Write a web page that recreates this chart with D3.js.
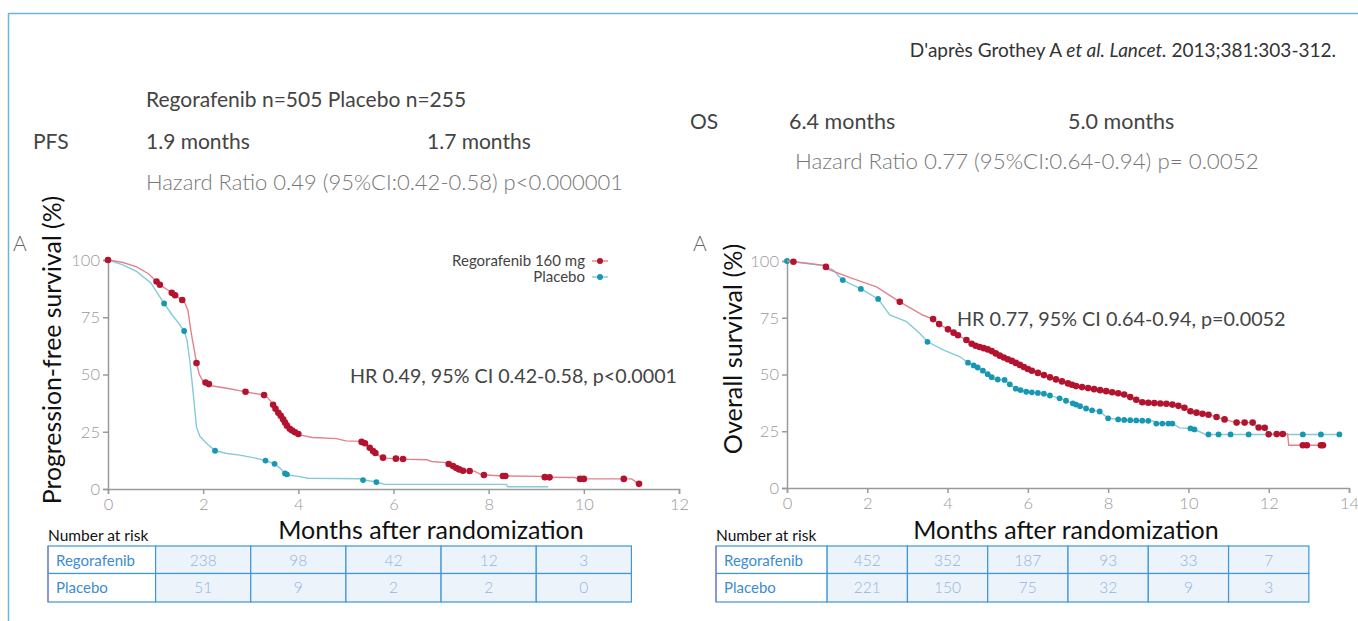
<!DOCTYPE html>
<html>
<head>
<meta charset="utf-8">
<script src="https://cdn.jsdelivr.net/npm/d3@7"></script>
<style>
  body { margin: 0; background: #fff; }
  svg { display: block; font-family: Lato, "Open Sans", sans-serif; }
</style>
</head>
<body>
<div id="chart"></div>
<script>
// ---- data ----
// PFS curves, [months, % surviving]
var pfsRegoCurve = [[0,100],[0.3,99],[0.6,97],[0.85,94],[1.0,91],[1.1,89],[1.25,87],[1.45,84],[1.6,82],[1.68,78],
  [1.75,68],[1.82,60],[1.86,55],[1.92,50],[2.0,47],[2.1,46],[2.2,45],[2.5,44],[2.9,42.4],[3.28,41],[3.35,40],
  [3.45,37.5],[3.55,34],[3.65,31.5],[3.72,29],[3.78,27],[3.85,25.8],[3.95,24.5],[4.05,23.5],[4.3,22.5],[4.8,22],
  [5.0,21],[5.3,20.8],[5.4,20],[5.5,18],[5.6,16],[5.7,14.5],[5.8,13.5],[6.3,13],[6.7,12.8],[6.8,12],[7.1,11.5],
  [7.25,10],[7.35,8.8],[7.45,8],[7.7,7.8],[7.85,6.2],[8.3,5.7],[9.1,5.5],[9.2,5.1],[9.8,5],[9.9,4.4],[11.0,4.4],
  [11.05,3.8],[11.12,2.5],[11.2,2]];
var pfsRegoCensor = [0,1.02,1.09,1.34,1.41,1.56,1.86,2.05,2.12,2.89,3.28,3.47,3.52,3.58,3.63,3.68,3.72,3.76,3.82,
  3.87,3.93,4.0,5.33,5.40,5.50,5.57,5.62,5.78,6.05,6.2,7.16,7.25,7.32,7.38,7.46,7.6,7.9,8.3,8.35,9.18,9.28,9.92,
  10.0,10.84,11.16];
var pfsPlacCurve = [[0,100],[0.3,98],[0.6,95],[0.9,90],[1.18,81],[1.35,76],[1.5,72],[1.6,69],[1.66,65],[1.72,56],
  [1.79,42],[1.86,27],[1.93,23],[2.07,20],[2.25,16.7],[2.5,15.5],[2.77,14.8],[3.1,13.5],[3.31,12.4],[3.5,11],
  [3.62,9],[3.72,6.8],[3.8,6],[4.0,5.5],[4.2,4.7],[5.3,4.5],[5.36,3.9],[5.6,3.3],[5.7,2.6],[5.82,2.0],[8.37,2.0],
  [8.4,1.0],[9.25,1.0]];
var pfsPlacCensor = [1.18,1.6,2.25,3.31,3.5,3.72,3.76,5.36,5.64];

// OS curves
var osRegoCurve = [[0,100],[0.5,99],[0.95,98],[1.0,96.5],[1.57,92.7],[2.23,88.6],[2.81,82],[3.39,76.1],[3.64,74.4],
  [3.79,72.2],[4.01,69.9],[4.26,67.3],[4.47,65.2],[4.64,63],[5.05,60.8],[5.34,57.9],[5.6,56],[6.05,52],[6.62,48.3],
  [7.2,44.9],[7.87,42.9],[8.37,41.4],[8.86,37.7],[9.53,37],[9.86,35.8],[10.07,33.6],[10.52,32.2],[10.94,30],
  [11.19,28.8],[11.6,28.8],[11.72,26.7],[11.93,26.5],[11.97,23.7],[12.47,23.8],[12.5,18.8],[13.35,18.8]];
var osRegoCensor = [0.16,0.97,2.81,3.64,3.79,4.01,4.15,4.26,4.47,4.6,4.7,4.8,4.9,5.0,5.1,5.2,5.3,5.4,5.5,5.6,5.7,
  5.8,5.9,6.0,6.1,6.25,6.4,6.55,6.7,6.85,7.0,7.1,7.2,7.35,7.5,7.65,7.8,7.95,8.1,8.25,8.4,8.55,8.7,8.85,9.0,9.15,
  9.3,9.45,9.6,9.75,9.9,10.05,10.2,10.35,10.5,10.7,10.9,11.2,11.4,11.6,11.75,11.9,12.0,12.2,12.35,12.85,12.95,
  13.3,13.35];
var osPlacCurve = [[0,100],[0.9,98],[1.15,96],[1.39,91.6],[1.84,87.7],[2.27,83.3],[2.56,76.2],[2.98,73.3],[3.31,68.1],
  [3.5,64.4],[3.89,60.8],[4.31,57.8],[4.51,55.2],[4.72,53.4],[4.88,51.7],[5.17,47.9],[5.42,47.6],[5.67,43.9],
  [5.96,42.4],[6.37,41.7],[6.79,39.5],[7.12,37.3],[7.54,34.4],[7.79,33.7],[8.0,30.7],[8.37,30],[9.12,29.5],
  [9.2,28.4],[9.6,28.4],[9.78,26.5],[10.1,26.2],[10.43,23.6],[13.76,23.6]];
var osPlacCensor = [0,1.39,1.84,2.27,3.5,4.51,4.65,4.75,4.88,5.0,5.1,5.25,5.42,5.55,5.7,5.82,5.96,6.1,6.25,6.4,
  6.55,6.79,6.95,7.12,7.2,7.3,7.45,7.6,7.79,8.0,8.25,8.4,8.55,8.7,8.85,9.0,9.2,9.35,9.5,9.6,10.05,10.15,10.5,
  10.75,11.05,11.5,12.85,13.3,13.76];

// number at risk tables
var pfsRiskMonths = [2,4,6,8,10];
var pfsRiskRego = [238,98,42,12,3];
var pfsRiskPlac = [51,9,2,2,0];
var osRiskMonths = [2,4,6,8,10,12];
var osRiskRego = [452,352,187,93,33,7];
var osRiskPlac = [221,150,75,32,9,3];

var yTicks = [0,25,50,75,100];
var pfsXTicks = [0,2,4,6,8,10,12];
var osXTicks = [0,2,4,6,8,10,12,14];
var armLabels = ['Regorafenib','Placebo'];

// ---- styles ----
var redLine = '#e3828f', redDot = '#b3132f';
var cyanLine = '#83cbd9', cyanDot = '#1697b2';
var frameBlue = '#6db5df';

var W = 1358, H = 621;
var svg = d3.select('#chart').append('svg').attr('width', W).attr('height', H);

// frame
svg.append('line').attr('x1', 8.5).attr('x2', W).attr('y1', 13.5).attr('y2', 13.5)
  .attr('stroke', frameBlue).attr('stroke-width', 1.5);
svg.append('line').attr('x1', 8.5).attr('x2', 8.5).attr('y1', 13).attr('y2', H)
  .attr('stroke', frameBlue).attr('stroke-width', 1.5);

function addText(x, y, str, size, color, opts) {
  opts = opts || {};
  return svg.append('text').attr('x', x).attr('y', y).text(str)
    .attr('font-size', size).attr('fill', color)
    .attr('font-weight', opts.weight || 400)
    .attr('text-anchor', opts.anchor || 'start');
}

// citation
var cite = svg.append('text').attr('x', 1336).attr('y', 57).attr('text-anchor', 'end')
  .attr('font-size', 19).attr('fill', '#333');
cite.append('tspan').text("D'après Grothey A ");
cite.append('tspan').attr('font-style', 'italic').text('et al. Lancet.');
cite.append('tspan').text(' 2013;381:303-312.');

// headers
addText(146, 107, 'Regorafenib n=505 Placebo n=255', 21, '#444');
addText(33, 149, 'PFS', 21, '#444');
addText(146, 149, '1.9 months', 21, '#444');
addText(427, 149, '1.7 months', 21, '#444');
addText(146, 190, 'Hazard Ratio 0.49 (95%CI:0.42-0.58) p<0.000001', 22, '#777', {weight: 300});
addText(690, 129, 'OS', 21, '#444');
addText(789, 129, '6.4 months', 21.5, '#444');
addText(1068, 129, '5.0 months', 21.5, '#444');
addText(795, 169, 'Hazard Ratio 0.77 (95%CI:0.64-0.94) p= 0.0052', 22.3, '#777', {weight: 300});

function valueAt(curve, t) {
  // value of the drawn curve at month t
  for (var i = 1; i < curve.length; i++) {
    if (t <= curve[i][0]) {
      var a = curve[i - 1], b = curve[i];
      var f = (t - a[0]) / (b[0] - a[0] || 1);
      return a[1] + f * (b[1] - a[1]);
    }
  }
  return curve[curve.length - 1][1];
}

function drawPanel(p) {
  var x = d3.scaleLinear().domain([0, p.xMax]).range([p.x0, p.x1]);
  var y = d3.scaleLinear().domain([0, 100]).range([p.y0, p.y1]);
  var g = svg.append('g');

  var yAxis = g.append('g').attr('transform', 'translate(' + p.x0 + ',0)')
    .call(d3.axisLeft(y).tickValues(yTicks).tickSize(5).tickPadding(3));
  var xAxis = g.append('g').attr('transform', 'translate(0,' + p.y0 + ')')
    .call(d3.axisBottom(x).tickValues(p.xTicks).tickSize(5).tickPadding(4));
  [yAxis, xAxis].forEach(function (a) {
    a.select('.domain').attr('stroke', '#9a9a9a').attr('stroke-width', 1.5);
    a.selectAll('.tick line').attr('stroke', '#9a9a9a').attr('stroke-width', 1.5);
    a.selectAll('.tick text').attr('fill', '#9a9a9a').attr('font-size', 16.5)
      .attr('font-weight', 300).attr('font-family', 'Lato, sans-serif');
  });

  var line = d3.line().x(function (d) { return x(d[0]); }).y(function (d) { return y(d[1]); });
  var series = [
    {curve: p.placCurve, censor: p.placCensor, lc: cyanLine, dc: cyanDot, r: 2.9},
    {curve: p.regoCurve, censor: p.regoCensor, lc: redLine, dc: redDot, r: 3.3}
  ];
  series.forEach(function (s) {
    g.append('path').datum(s.curve).attr('d', line)
      .attr('fill', 'none').attr('stroke', s.lc).attr('stroke-width', 1.4);
    g.selectAll(null).data(s.censor).enter().append('circle')
      .attr('cx', function (d) { return x(d); })
      .attr('cy', function (d) { return y(valueAt(s.curve, d)); })
      .attr('r', s.r).attr('fill', s.dc);
  });

  // panel letter and axis title
  addText(p.letterX, 251, 'A', 21, '#666', {weight: 300});
  svg.append('text').attr('transform', 'translate(' + p.yTitleX + ',' + p.yTitleY + ') rotate(-90)')
    .attr('text-anchor', 'middle').attr('font-size', p.yTitleSize).attr('fill', '#111').text(p.yTitle);
  addText(p.xTitleX, 539, 'Months after randomization', 25, '#111', {anchor: 'middle'});
  addText(p.tableX, 541, 'Number at risk', 15.5, '#111');

  // number at risk table
  var rows = [p.riskRego, p.riskPlac];
  var rowY = [546, 573.5, 602];
  var t = g.append('g');
  rows.forEach(function (vals, ri) {
    t.append('rect').attr('x', p.tableX).attr('y', rowY[ri])
      .attr('width', x(p.riskMonths[0] - 1) - p.tableX).attr('height', rowY[ri + 1] - rowY[ri])
      .attr('fill', '#fff').attr('stroke', '#3f97d6').attr('stroke-width', 1.2);
    t.append('text').attr('x', p.tableX + 8).attr('y', rowY[ri] + 19.5)
      .attr('font-size', 15).attr('fill', '#3d8cd3').text(armLabels[ri]);
    t.selectAll(null).data(vals).enter().append('rect')
      .attr('x', function (d, i) { return x(p.riskMonths[i] - 1); })
      .attr('y', rowY[ri])
      .attr('width', function (d, i) { return x(p.riskMonths[i] + 1) - x(p.riskMonths[i] - 1); })
      .attr('height', rowY[ri + 1] - rowY[ri])
      .attr('fill', '#edf3fb').attr('stroke', '#3f97d6').attr('stroke-width', 1.2);
    t.selectAll(null).data(vals).enter().append('text')
      .attr('x', function (d, i) { return x(p.riskMonths[i]); })
      .attr('y', rowY[ri] + 19.5).attr('text-anchor', 'middle')
      .attr('font-size', 15.5).attr('font-weight', 300).attr('fill', '#93b3de')
      .text(function (d) { return d; });
  });
  t.append('line').attr('x1', p.tableX).attr('x2', p.tableX).attr('y1', rowY[0]).attr('y2', rowY[2])
    .attr('stroke', '#8a86c8').attr('stroke-width', 1.4);
  return x;
}

drawPanel({
  x0: 108, x1: 679, y0: 489, y1: 260, xMax: 12, xTicks: pfsXTicks,
  regoCurve: pfsRegoCurve, regoCensor: pfsRegoCensor, placCurve: pfsPlacCurve, placCensor: pfsPlacCensor,
  riskMonths: pfsRiskMonths, riskRego: pfsRiskRego, riskPlac: pfsRiskPlac,
  letterX: 13, yTitleX: 61, yTitleY: 350, yTitleSize: 24.8, yTitle: 'Progression-free survival (%)',
  xTitleX: 431, tableX: 48
});
drawPanel({
  x0: 787, x1: 1349, y0: 488, y1: 261, xMax: 14, xTicks: osXTicks,
  regoCurve: osRegoCurve, regoCensor: osRegoCensor, placCurve: osPlacCurve, placCensor: osPlacCensor,
  riskMonths: osRiskMonths, riskRego: osRiskRego, riskPlac: osRiskPlac,
  letterX: 693, yTitleX: 742, yTitleY: 349, yTitleSize: 25.2, yTitle: 'Overall survival (%)',
  xTitleX: 1066, tableX: 716
});

// legend (left panel)
var legend = [
  {label: 'Regorafenib 160 mg', lc: redLine, dc: redDot, y: 261},
  {label: 'Placebo', lc: cyanLine, dc: cyanDot, y: 277}
];
legend.forEach(function (l) {
  addText(585, l.y + 4.5, l.label, 15, '#444', {anchor: 'end'});
  svg.append('line').attr('x1', 592).attr('x2', 608).attr('y1', l.y).attr('y2', l.y)
    .attr('stroke', l.lc).attr('stroke-width', 1.4);
  svg.append('circle').attr('cx', 600).attr('cy', l.y).attr('r', 3).attr('fill', l.dc);
});

// HR annotations
addText(350, 383, 'HR 0.49, 95% CI 0.42-0.58, p<0.0001', 19.7, '#444');
addText(957, 326, 'HR 0.77, 95% CI 0.64-0.94, p=0.0052', 19.8, '#444');
</script>
</body>
</html>
